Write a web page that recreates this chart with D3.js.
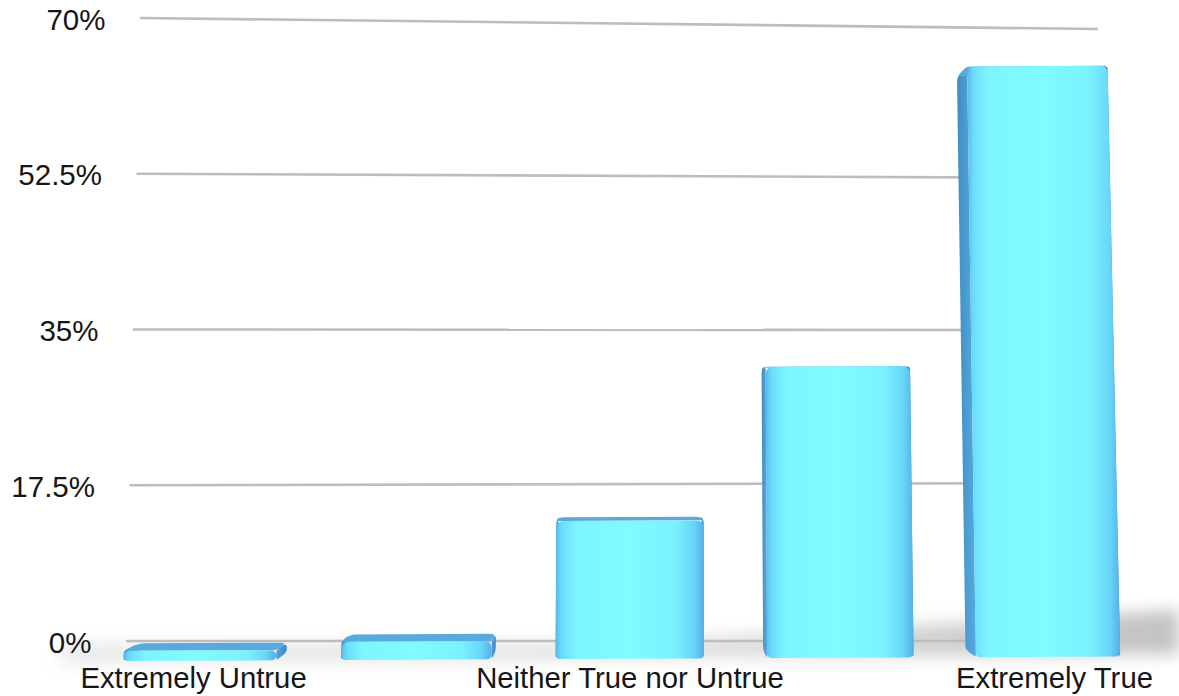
<!DOCTYPE html>
<html>
<head>
<meta charset="utf-8">
<script src="https://cdn.jsdelivr.net/npm/d3@7"></script>
<style>
  html, body { margin: 0; padding: 0; background: #ffffff; }
  svg { display: block; }
  text { font-family: "Liberation Sans", Arial, Helvetica, sans-serif; fill: #161616; }
</style>
</head>
<body>
<svg id="chart" width="1179" height="696"></svg>
<script>
// Survey responses (share of respondents, %)
const categories = ["Extremely Untrue", "Somewhat Untrue", "Neither True nor Untrue", "Somewhat True", "Extremely True"];
const values = [1.0, 1.8, 13.6, 28.7, 58.2];
const tickValues = [0, 17.5, 35, 52.5, 70];
const tickLabels = ["0%", "17.5%", "35%", "52.5%", "70%"];

const W = 1179, H = 696;
const svg = d3.select("#chart");
svg.append("rect").attr("width", W).attr("height", H).attr("fill", "#ffffff");

// ---- scales ----
const band = d3.scaleBand().domain(categories).range([0, 1]).paddingInner(0.3).paddingOuter(0.15);
const hScale = d3.scaleLinear().domain([0, 70]).range([0, 710.5]);           // bar height in px (front plane)
const baseY = d3.scaleLinear().domain([124, 1122]).range([661, 656.5]);       // floor line of the front plane
const warp = u => 90.6 + 1098 * u / (1 + 0.0355 * u);                          // horizontal foreshortening

// back wall (grid) plane
const gridXLeft = d3.scaleLinear().domain([0, 70]).range([126, 140]);
const gridYLeft = d3.scaleLinear().domain([0, 70]).range([641, 18]);
const gridYRight = d3.scaleLinear().domain(tickValues).range([641, 483, 330, 178, 29]);
const gridXRight = 1098;

// perspective helpers
const VX = 650, VDIST = 22000;          // vertical convergence
const vp = [630, 400], depth = 0.03;    // depth vanishing point and bar depth

function front(u, v) {
  const X = warp(u);
  const h = hScale(v);
  return [X + (VX - X) * h / VDIST, baseY(X) - h];
}
function back(p) {
  return [vp[0] + (p[0] - vp[0]) * (1 - depth), vp[1] + (p[1] - vp[1]) * (1 - depth)];
}

function toward(P, Q, r) {
  const dx = Q[0] - P[0], dy = Q[1] - P[1];
  const d = Math.hypot(dx, dy) || 1;
  const t = Math.min(r, d / 2) / d;
  return [P[0] + dx * t, P[1] + dy * t];
}
function roundedPath(pts, radii) {
  const p = d3.path();
  const n = pts.length;
  for (let i = 0; i < n; i++) {
    const P = pts[i], A = pts[(i - 1 + n) % n], C = pts[(i + 1) % n];
    const a = toward(P, A, radii[i]), c = toward(P, C, radii[i]);
    if (i === 0) p.moveTo(a[0], a[1]); else p.lineTo(a[0], a[1]);
    p.quadraticCurveTo(P[0], P[1], c[0], c[1]);
  }
  p.closePath();
  return p.toString();
}

// ---- defs ----
const defs = svg.append("defs");
const fg = defs.append("linearGradient").attr("id", "barFront").attr("x1", 0).attr("x2", 1).attr("y1", 0).attr("y2", 0);
[[0, "#58b6ec"], [0.04, "#6bdcfa"], [0.14, "#7df6ff"], [0.5, "#80fbff"], [0.8, "#7af2fe"], [0.93, "#69d6f8"], [1, "#54b0ea"]]
  .forEach(s => fg.append("stop").attr("offset", s[0]).attr("stop-color", s[1]));
const lg = defs.append("linearGradient").attr("id", "sideLeft").attr("x1", 0).attr("x2", 1);
lg.append("stop").attr("offset", 0).attr("stop-color", "#3f8dc2");
lg.append("stop").attr("offset", 1).attr("stop-color", "#55abe0");
const rg = defs.append("linearGradient").attr("id", "sideRight").attr("x1", 0).attr("x2", 1);
rg.append("stop").attr("offset", 0).attr("stop-color", "#4fa2d8");
rg.append("stop").attr("offset", 1).attr("stop-color", "#3f8dc2");
const floorG = defs.append("linearGradient").attr("id", "floorGrad").attr("x1", 0).attr("x2", 1);
floorG.append("stop").attr("offset", 0).attr("stop-color", "#ebebeb");
floorG.append("stop").attr("offset", 0.6).attr("stop-color", "#dedede");
floorG.append("stop").attr("offset", 1).attr("stop-color", "#c2c2c2");
defs.append("filter").attr("id", "soft").attr("x", "-10%").attr("y", "-100%").attr("width", "120%").attr("height", "300%")
  .append("feGaussianBlur").attr("stdDeviation", 8);

// ---- floor shading ----
svg.append("path")
  .attr("d", d3.line()([[60, 643], [600, 643], [1179, 610], [1179, 654], [60, 664]]) + "Z")
  .attr("fill", "url(#floorGrad)")
  .attr("filter", "url(#soft)");

// ---- gridlines ----
svg.append("g").selectAll("line").data(tickValues).join("line")
  .attr("x1", d => gridXLeft(d)).attr("y1", d => gridYLeft(d))
  .attr("x2", gridXRight).attr("y2", d => gridYRight(d))
  .attr("stroke", "#bdbdbd").attr("stroke-width", 2.6);

// ---- y tick labels ----
svg.append("g").selectAll("text").data(tickValues).join("text")
  .attr("x", d => gridXLeft(d) - 34.5)
  .attr("y", d => gridYLeft(d) + 11.5)
  .attr("text-anchor", "end")
  .attr("font-size", 29.5)
  .text((d, i) => tickLabels[i]);

// ---- bars ----
const bars = svg.append("g");
categories.forEach((c, i) => {
  const u0 = band(c), u1 = band(c) + band.bandwidth(), v = values[i];
  const FBL = front(u0, 0), FBR = front(u1, 0), FTR = front(u1, v), FTL = front(u0, v);
  const BBL = back(FBL), BBR = back(FBR), BTR = back(FTR), BTL = back(FTL);
  const g = bars.append("g");
  // side faces
  g.append("path").attr("d", roundedPath([FTL, BTL, BBL, FBL], [3, 6, 4, 3])).attr("fill", "url(#sideLeft)");
  g.append("path").attr("d", roundedPath([BTR, FTR, FBR, BBR], [6, 3, 3, 4])).attr("fill", "url(#sideRight)");
  // top face
  g.append("path").attr("d", roundedPath([BTL, BTR, FTR, FTL], [6, 6, 3, 3])).attr("fill", "#58a9de");
  // front face
  g.append("path").attr("d", roundedPath([FTL, FTR, FBR, FBL], [8, 8, 5, 5])).attr("fill", "url(#barFront)");
});

// ---- category labels (every other one) ----
svg.append("g").selectAll("text").data(categories).join("text")
  .filter((d, i) => i % 2 === 0)
  .attr("x", d => { const X = warp(band(d) + band.bandwidth() / 2); return 630 + (X - 630) * 1.015; })
  .attr("y", 688)
  .attr("text-anchor", "middle")
  .attr("font-size", 29.3)
  .text(d => d);
</script>
</body>
</html>
